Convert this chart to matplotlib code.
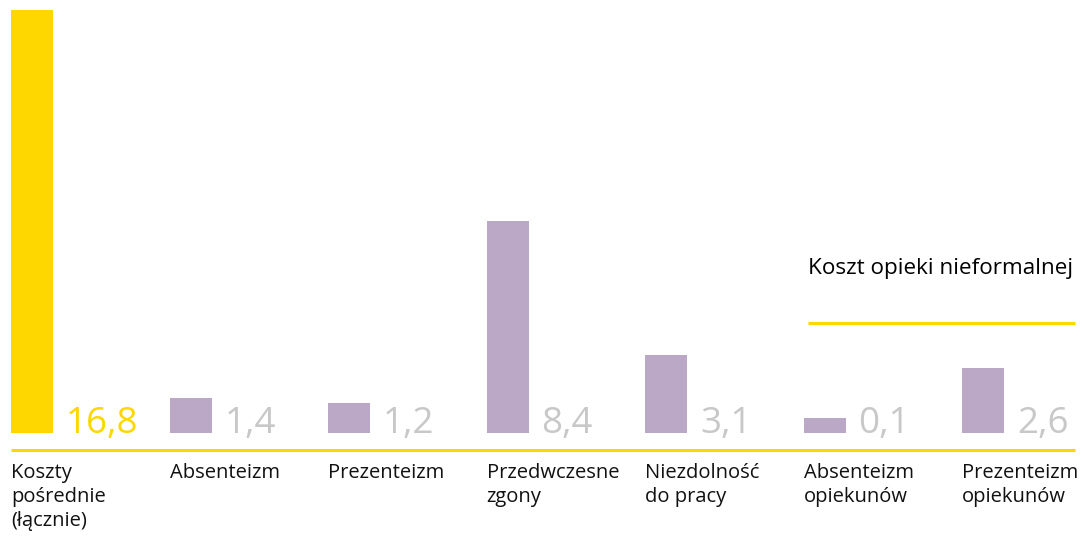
import numpy as np
from matplotlib import pyplot as plt

categories = ["Koszty\npośrednie\n(łącznie)", "Absenteizm", "Prezenteizm",
              "Przedwczesne\nzgony", "Niezdolność\ndo pracy",
              "Absenteizm\nopiekunów", "Prezenteizm\nopiekunów"]
values = [16.8, 1.4, 1.2, 8.4, 3.1, 0.1, 2.6]
value_labels = ["16,8", "1,4", "1,2", "8,4", "3,1", "0,1", "2,6"]
legend_text = "Koszt opieki nieformalnej"

yellow = "#ffd700"
purple = "#bba8c7"
grey = "#c8c8c8"

plt.rcParams["font.family"] = ["Open Sans", "DejaVu Sans"]

W, H = 1082, 537
fig = plt.figure(figsize=(W / 100, H / 100), dpi=100)
ax = fig.add_axes([0, 0, 1, 1])
ax.axis("off")

# pixel layout: first bar centre 32px, step 158.5px, baseline 433px, 25.18 px per unit
step, x0, base, scale = 158.5, 32, 433, 25.18
ax.set_xlim(-x0 / step, (W - x0) / step)
ax.set_ylim((base - H) / scale, base / scale)

def px_x(p):
    return (p - x0) / step

def px_y(p):
    return (base - p) / scale

width = 42 / step
x = np.arange(len(values))
# very small values get a minimum visible bar height
heights = [max(v, 0.6) for v in values]
colors = [yellow] + [purple] * (len(values) - 1)
ax.bar(x, heights, width=width, color=colors, align="center")

for i, (lab, cat) in enumerate(zip(value_labels, categories)):
    ax.text(i + width / 2 + 13 / step, 0, lab, fontsize=26.5,
            color=yellow if i == 0 else grey, va="baseline", ha="left")
    ax.text(i - width / 2, px_y(463), cat, fontsize=14.5, color="#111111",
            va="top", ha="left", linespacing=1.26)

ax.plot([px_x(11), px_x(1075)], [px_y(450), px_y(450)], color=yellow, lw=2.2,
        solid_capstyle="butt")
ax.plot([px_x(808), px_x(1075)], [px_y(323), px_y(323)], color=yellow, lw=2.2,
        solid_capstyle="butt")
ax.text(px_x(808), px_y(274), legend_text, fontsize=16.2, color="#000000",
        va="baseline", ha="left")

fig.savefig("out.png", dpi=100)
